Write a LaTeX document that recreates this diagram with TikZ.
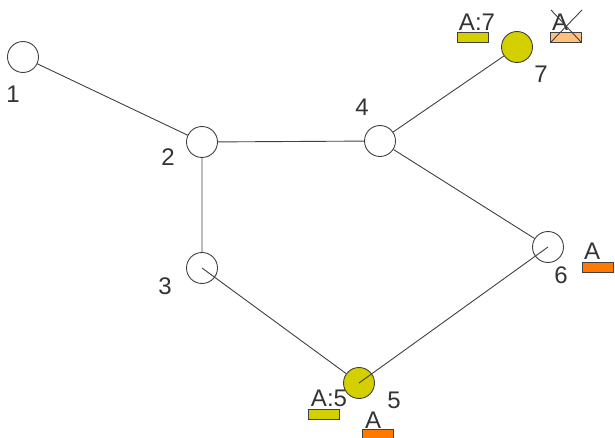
\documentclass[tikz,border=0pt]{standalone}
\usepackage{fontspec}
\setmainfont{Liberation Sans}
\definecolor{edgegray}{RGB}{64,64,64}
\definecolor{txtgray}{RGB}{51,51,51}
\definecolor{markyellow}{RGB}{212,208,0}
\definecolor{markorange}{RGB}{255,120,0}
\definecolor{markpale}{RGB}{255,192,128}
\begin{document}
\begin{tikzpicture}[x=1pt,y=-1pt,
  vtx/.style={circle,draw=edgegray,fill=white,line width=0.9pt,minimum size=31pt,inner sep=0pt},
  hit/.style={vtx,fill=markyellow},
  num/.style={text=txtgray,inner sep=0pt,font=\fontsize{24}{24}\selectfont},
  tag/.style={draw=edgegray,line width=0.9pt,minimum width=31pt,minimum height=10pt,inner sep=0pt},
  every path/.style={edgegray,line width=0.9pt}]
\useasboundingbox (0,0) rectangle (615,438);
% vertices
\node[vtx] (v1) at (23,57) {};
\node[vtx] (v2) at (202,142) {};
\node[vtx] (v3) at (202,268) {};
\node[vtx] (v4) at (380,141) {};
\node[hit] (v5) at (359,383) {};
\node[vtx] (v6) at (548,247) {};
\node[hit] (v7) at (517,47) {};
% numbers
\node[num] (l1) at (13,94) {1};
\node[num] (l2) at (168,157) {2};
\node[num] (l3) at (165,286) {3};
\node[num] (l4) at (362,107) {4};
\node[num] (l5) at (394,400) {5};
\node[num] (l6) at (561,275) {6};
\node[num] (l7) at (541,74) {7};
% edges
\draw (v1) -- (v2) (v2) -- (v4) (v2) -- (v3) (v4) -- (v7) (v4) -- (v6);
\draw (v3.center) -- (v5);
\draw (v5.center) -- (v6.center);
% marks at 7
\node[tag,fill=markyellow] (b7) at (472.5,37) {};
\node[num] (t7) at (477,22) {A:7};
\node[tag,fill=markpale] (b7x) at (566,37) {};
\node[num] (t7x) at (560,22) {A};
\coordinate (xa) at (551,10); \coordinate (xb) at (581,42);
\coordinate (xc) at (582,10); \coordinate (xd) at (551,42);
\draw (xa) -- (xb) (xc) -- (xd);
% mark at 6
\node[tag,fill=markorange] (b6) at (597.5,267) {};
\node[num] (t6) at (592,251) {A};
% marks at 5
\node[tag,fill=markyellow] (b5) at (324,414) {};
\node[num] (t5) at (329,398) {A:5};
\node[tag,fill=markorange] (b5o) at (378,434) {};
\node[num] (t5o) at (373,420) {A};
\end{tikzpicture}
\end{document}
